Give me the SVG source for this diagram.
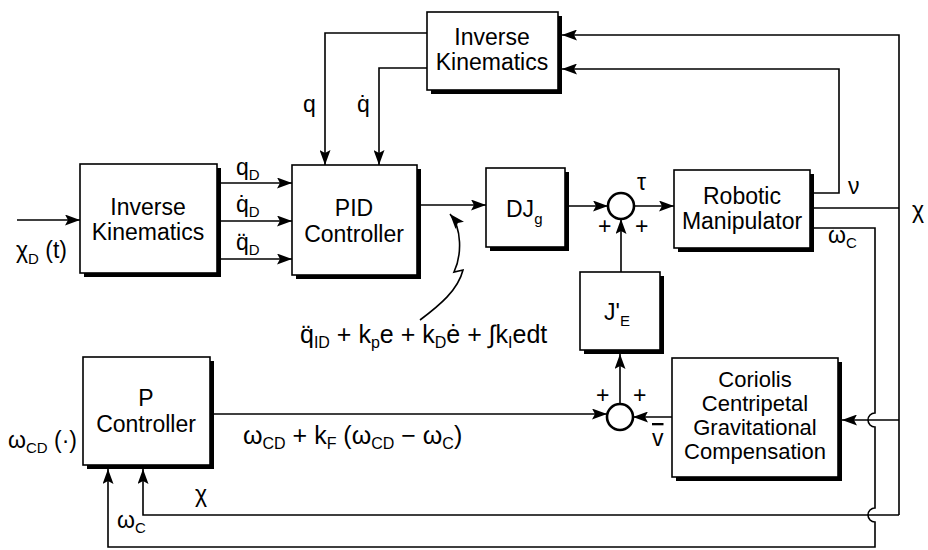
<svg xmlns="http://www.w3.org/2000/svg" width="928" height="550" viewBox="0 0 928 550">
<style>
.box{fill:#fff;stroke:#000;stroke-width:1.6}
.sh{fill:#000}
.ln{fill:none;stroke:#000;stroke-width:1.6}
.cir{fill:#fff;stroke:#000;stroke-width:2.6}
text{font-family:"Liberation Sans",Arial,sans-serif;fill:#000}
.bt{font-size:23px;text-anchor:middle}
.ct{font-size:22px;text-anchor:middle}
.lb{font-size:23px}
.fm{font-size:25px}
.sub{font-size:15px}
.fs{font-size:16px}
</style>
<defs>
<marker id="ah" markerWidth="15" markerHeight="11" refX="15" refY="5.5" orient="auto" markerUnits="userSpaceOnUse">
<path d="M0,0 L15,5.5 L0,11 L3,5.5 z" fill="#000"/>
</marker>
</defs>
<rect width="928" height="550" fill="#fff"/>

<g id="connectors">
<path class="ln" d="M17,220 H80" marker-end="url(#ah)"/>
<path class="ln" d="M221,183 H292" marker-end="url(#ah)"/>
<path class="ln" d="M221,221 H292" marker-end="url(#ah)"/>
<path class="ln" d="M221,259 H292" marker-end="url(#ah)"/>
<path class="ln" d="M427,33 H325 V165" marker-end="url(#ah)"/>
<path class="ln" d="M427,68 H379 V165" marker-end="url(#ah)"/>
<path class="ln" d="M421,205 H486" marker-end="url(#ah)"/>
<path class="ln" d="M569,206 H608" marker-end="url(#ah)"/>
<path class="ln" d="M634,206 H674" marker-end="url(#ah)"/>
<path class="ln" d="M621,272 V219" marker-end="url(#ah)"/>
<path class="ln" d="M620,404 V354" marker-end="url(#ah)"/>
<path class="ln" d="M214,414 H607" marker-end="url(#ah)"/>
<path class="ln" d="M672,417 H633" marker-end="url(#ah)"/>
<path class="ln" d="M814,193 H839 V69 H562" marker-end="url(#ah)"/>
<path class="ln" d="M814,208 H899"/>
<path class="ln" d="M899,515 V35 H562" marker-end="url(#ah)"/>
<path class="ln" d="M899,420 H842" marker-end="url(#ah)"/>
<path class="ln" d="M899,515 H143 V469" marker-end="url(#ah)"/>
<path class="ln" d="M814,228 H875 V413 A7,7 0 0 0 875,427 V508 A7,7 0 0 0 875,522 V547 H108 V469" marker-end="url(#ah)"/>
<path class="ln" d="M420,320 C440,305 458,290 463,270 L454,272 C462,255 462,228 450,214" marker-end="url(#ah)"/>
</g>

<g id="ik1">
<rect class="sh" x="84" y="168" width="137" height="109"/>
<rect class="box" x="80" y="164" width="137" height="109"/>
<text class="bt" x="148" y="215">Inverse</text>
<text class="bt" x="148" y="240">Kinematics</text>
</g>

<g id="ik2">
<rect class="sh" x="431" y="16" width="131" height="78"/>
<rect class="box" x="427" y="12" width="131" height="78"/>
<text class="bt" x="492" y="45">Inverse</text>
<text class="bt" x="492" y="70">Kinematics</text>
</g>

<g id="pid">
<rect class="sh" x="296" y="169" width="125" height="110"/>
<rect class="box" x="292" y="165" width="125" height="110"/>
<text class="bt" x="354" y="216">PID</text>
<text class="bt" x="354" y="242">Controller</text>
</g>

<g id="djg">
<rect class="sh" x="490" y="172" width="79" height="79"/>
<rect class="box" x="486" y="168" width="79" height="79"/>
<text class="lb" x="506" y="217" font-size="25">DJ<tspan class="sub" dy="7">g</tspan></text>
</g>

<g id="sum1">
<circle class="cir" cx="621" cy="206" r="13"/>
<text class="lb" x="598" y="234">+</text>
<text class="lb" x="635" y="234">+</text>
<text class="lb" x="637" y="190">τ</text>
</g>

<g id="robot">
<rect class="sh" x="678" y="174" width="136" height="78"/>
<rect class="box" x="674" y="170" width="136" height="78"/>
<text class="bt" x="742" y="204">Robotic</text>
<text class="bt" x="742" y="229">Manipulator</text>
</g>

<g id="je">
<rect class="sh" x="584" y="276" width="80" height="78"/>
<rect class="box" x="580" y="272" width="80" height="78"/>
<text class="lb" x="604" y="320">J'<tspan class="sub" dy="6">E</tspan></text>
</g>

<g id="sum2">
<circle class="cir" cx="620" cy="417" r="13"/>
<text class="lb" x="596" y="403">+</text>
<text class="lb" x="633" y="403">+</text>
<text class="lb" x="652" y="446" style="text-decoration:overline">v</text>
</g>

<g id="coriolis">
<rect class="sh" x="676" y="362" width="166" height="119"/>
<rect class="box" x="672" y="358" width="166" height="119"/>
<text class="ct" x="755" y="387">Coriolis</text>
<text class="ct" x="755" y="411">Centripetal</text>
<text class="ct" x="755" y="435">Gravitational</text>
<text class="ct" x="755" y="459">Compensation</text>
</g>

<g id="pctrl">
<rect class="sh" x="87" y="361" width="127" height="108"/>
<rect class="box" x="83" y="357" width="127" height="108"/>
<text class="bt" x="146" y="406">P</text>
<text class="bt" x="146" y="432">Controller</text>
</g>

<g id="labels">
<text class="lb" x="236" y="175">q<tspan class="sub" dy="5">D</tspan></text>
<text class="lb" x="236" y="212">q̇<tspan class="sub" dy="5">D</tspan></text>
<text class="lb" x="236" y="250">q̈<tspan class="sub" dy="5">D</tspan></text>
<text class="lb" x="16" y="258">χ<tspan class="sub" dy="6">D</tspan><tspan dy="-6"> (t)</tspan></text>
<text class="lb" x="303" y="112">q</text>
<text class="lb" x="357" y="112">q̇</text>
<text class="lb" x="848" y="194">ν</text>
<text class="lb" x="912" y="218" font-size="26">χ</text>
<text class="lb" x="828" y="243">ω<tspan class="sub" dy="5">C</tspan></text>
<text class="fm" x="300" y="343">q̈<tspan class="fs" dy="5">ID</tspan><tspan dy="-5"> + k</tspan><tspan class="fs" dy="5">p</tspan><tspan dy="-5">e + k</tspan><tspan class="fs" dy="5">D</tspan><tspan dy="-5">ė + ∫k</tspan><tspan class="fs" dy="5">I</tspan><tspan dy="-5">edt</tspan></text>
<text class="lb" x="8" y="448">ω<tspan class="sub" dy="5">CD</tspan><tspan dy="-5"> (·)</tspan></text>
<text class="fm" x="243" y="444">ω<tspan class="fs" dy="5">CD</tspan><tspan dy="-5">  + k</tspan><tspan class="fs" dy="5">F</tspan><tspan dy="-5"> (ω</tspan><tspan class="fs" dy="5">CD</tspan><tspan dy="-5"> − ω</tspan><tspan class="fs" dy="5">C</tspan><tspan dy="-5">)</tspan></text>
<text class="lb" x="195" y="502">χ</text>
<text class="lb" x="117" y="528">ω<tspan class="sub" dy="5">C</tspan></text>
</g>
</svg>
